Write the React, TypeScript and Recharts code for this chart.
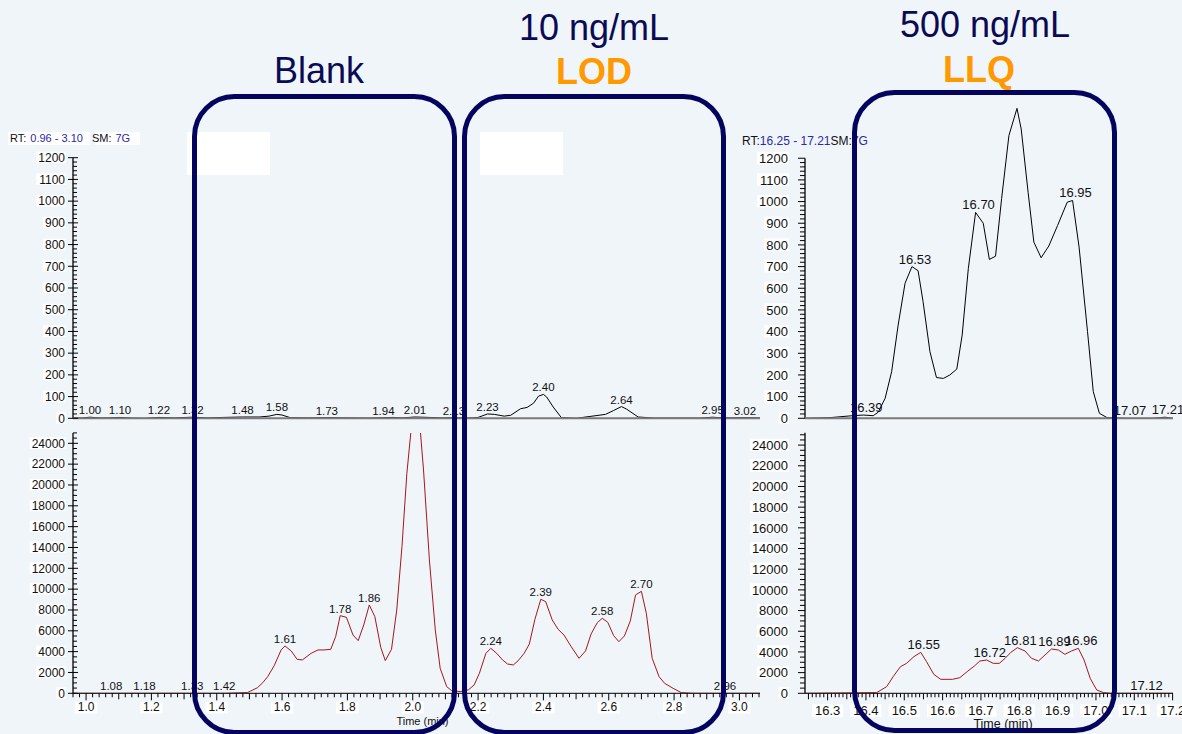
import React from 'react';
import { LineChart, Line, XAxis, YAxis, ReferenceLine, LabelList } from 'recharts';

const FONT = '"Liberation Sans", Arial, sans-serif';
const NAVY = '#04045f';
const ORANGE = '#ff9900';
const BG = '#f0f5fa';

// top left: blank / LOD, 0-1200 scale
const blankLodTop: [number, number][] = [
  [0.96, 2], [0.99, 2], [1.012, 5], [1.04, 2], [1.07, 2], [1.104, 4], [1.14, 1], [1.18, 0],
  [1.223, 4], [1.27, 2], [1.326, 5], [1.37, 2], [1.42, 4], [1.479, 6], [1.53, 6], [1.56, 10],
  [1.584, 18], [1.6, 15], [1.625, 3], [1.68, 2], [1.737, 3], [1.8, 2], [1.86, 1], [1.91, 3],
  [1.94, 4], [1.97, 2], [2.007, 6], [2.05, 4], [2.09, 2], [2.126, 3], [2.17, 1], [2.2, 4],
  [2.229, 20], [2.25, 18], [2.28, 10], [2.3, 14], [2.33, 44], [2.35, 50], [2.37, 70], [2.385, 102],
  [2.4, 110], [2.41, 98], [2.43, 52], [2.455, 3], [2.5, 0], [2.54, 8], [2.59, 18], [2.615, 36],
  [2.639, 54], [2.655, 42], [2.69, 6], [2.74, 1], [2.8, 1], [2.88, 1], [2.918, 5], [2.95, 2],
  [3.017, 3], [3.063, 2],
];
const blankLodTopPeaks: [number, string][] = [
  [1.012, '1.00'], [1.104, '1.10'], [1.223, '1.22'], [1.326, '1.32'], [1.479, '1.48'],
  [1.584, '1.58'], [1.737, '1.73'], [1.91, '1.94'], [2.007, '2.01'], [2.126, '2.13'],
  [2.229, '2.23'], [2.4, '2.40'], [2.639, '2.64'], [2.918, '2.95'], [3.017, '3.02'],
];

// bottom left: blank / LOD, 0-25000 scale
const blankLodBottom: [number, number][] = [
  [0.96, 0], [1.077, 0], [1.179, 0], [1.325, 0], [1.423, 0], [1.494, 64], [1.525, 544],
  [1.541, 1024], [1.556, 1600], [1.576, 2656], [1.597, 4160], [1.609, 4544], [1.628, 4064],
  [1.646, 3264], [1.662, 3200], [1.689, 3840], [1.71, 4160], [1.728, 4160], [1.749, 4224],
  [1.764, 5440], [1.778, 7456], [1.797, 7296], [1.817, 5600], [1.833, 5056], [1.85, 6560],
  [1.867, 8480], [1.884, 7360], [1.902, 4416], [1.916, 3136], [1.935, 4224], [1.951, 8000],
  [1.967, 14080], [1.982, 21120], [1.995, 25300], [2.009, 31000], [2.023, 25300], [2.033, 21440],
  [2.051, 12800], [2.069, 6080], [2.084, 2400], [2.104, 640], [2.119, 256], [2.145, 160],
  [2.17, 320], [2.188, 800], [2.204, 1920], [2.224, 3840], [2.239, 4320], [2.257, 3840],
  [2.275, 3200], [2.29, 2816], [2.308, 2720], [2.323, 3136], [2.341, 3840], [2.357, 4736],
  [2.374, 7104], [2.392, 9024], [2.407, 8800], [2.427, 7040], [2.445, 6144], [2.463, 5600],
  [2.485, 4480], [2.509, 3360], [2.529, 4064], [2.546, 5696], [2.565, 6784], [2.58, 7200],
  [2.597, 6816], [2.615, 5536], [2.631, 4960], [2.648, 5504], [2.666, 6944], [2.682, 9440],
  [2.7, 9792], [2.715, 7680], [2.733, 3360], [2.754, 1600], [2.771, 960], [2.797, 480],
  [2.822, 64], [2.858, 0], [2.956, 0], [3.063, 0],
];
const blankLodBottomPeaks: [number, string][] = [
  [1.077, '1.08'], [1.179, '1.18'], [1.325, '1.33'], [1.423, '1.42'], [1.609, '1.61'],
  [1.778, '1.78'], [1.867, '1.86'], [2.239, '2.24'], [2.392, '2.39'], [2.58, '2.58'],
  [2.7, '2.70'], [2.956, '2.96'],
];

// top right: LLQ, 0-1200 scale (main peak runs above the axis)
const llqTop: [number, number][] = [
  [16.241, 0], [16.306, 3], [16.358, 11], [16.393, 15], [16.419, 12], [16.432, 28], [16.45, 92],
  [16.467, 215], [16.484, 430], [16.502, 623], [16.52, 700], [16.536, 681], [16.549, 538],
  [16.567, 307], [16.584, 188], [16.602, 184], [16.619, 200], [16.637, 227], [16.651, 384],
  [16.667, 690], [16.686, 950], [16.706, 900], [16.722, 733], [16.738, 748], [16.754, 1015],
  [16.773, 1305], [16.794, 1430], [16.805, 1335], [16.823, 1043], [16.838, 813], [16.857, 741],
  [16.877, 795], [16.9, 890], [16.925, 997], [16.939, 1005], [16.956, 790], [16.978, 400],
  [16.993, 123], [17.009, 23], [17.029, 3], [17.081, 0], [17.15, 0], [17.18, 5], [17.201, 0],
];
const llqTopPeaks: [number, string][] = [
  [16.393, '16.39'], [16.52, '16.53'], [16.686, '16.70'], [16.939, '16.95'],
  [17.081, '17.07'], [17.18, '17.21'],
];

// bottom right: LLQ, 0-25000 scale
const llqBottom: [number, number][] = [
  [16.241, 0], [16.428, 64], [16.454, 644], [16.471, 1610], [16.49, 2576], [16.506, 2898],
  [16.525, 3542], [16.543, 3960], [16.558, 3059], [16.577, 1835], [16.595, 1352], [16.626, 1352],
  [16.645, 1513], [16.664, 2093], [16.684, 2673], [16.697, 3123], [16.715, 3220], [16.732, 2898],
  [16.748, 2898], [16.763, 3381], [16.778, 3960], [16.795, 4411], [16.815, 4089], [16.832, 3381],
  [16.85, 3123], [16.867, 3703], [16.884, 4283], [16.902, 4186], [16.919, 3767], [16.936, 4089],
  [16.954, 4347], [16.969, 3220], [16.985, 1449], [17.002, 322], [17.02, 64], [17.037, 0],
  [17.124, 0], [17.201, 0],
];
const llqBottomPeaks: [number, string][] = [
  [16.543, '16.55'], [16.715, '16.72'], [16.795, '16.81'], [16.884, '16.89'],
  [16.954, '16.96'], [17.124, '17.12'],
];

const leftTimeLabels = [1.0, 1.2, 1.4, 1.6, 1.8, 2.0, 2.2, 2.4, 2.6, 2.8, 3.0];
const rightTimeLabels = [16.3, 16.4, 16.5, 16.6, 16.7, 16.8, 16.9, 17.0, 17.1, 17.2];
const topSignalStep = 100;
const bottomSignalStep = 2000;

const range = (start: number, end: number, step: number) => {
  const out: number[] = [];
  const n = Math.round((end - start) / step);
  for (let i = 0; i <= n; i++) out.push(Math.round((start + i * step) * 1000) / 1000);
  return out;
};

const toRows = (trace: [number, number][], peaks: [number, string][]) =>
  trace.map(([t, v]) => {
    const p = peaks.find((q) => Math.abs(q[0] - t) < 1e-6);
    return { t, v, lab: p ? p[1] : undefined };
  });

const isMultiple = (v: number, step: number) => Math.abs(v / step - Math.round(v / step)) < 1e-6;

const XTick = (props: any) => {
  const { x, y, payload, cfg } = props;
  const v = payload.value;
  const isLabel = cfg.labels.some((l: number) => Math.abs(l - v) < 1e-6);
  const isMajor = isLabel || isMultiple(v, cfg.majorStep);
  const len = isLabel ? 7 : isMajor ? 6 : 4;
  const text = v.toFixed(1);
  const w = text.length * cfg.fontSize * 0.54 + 3;
  return (
    <g>
      <line x1={x} x2={x} y1={y} y2={y + len} stroke="#000" strokeWidth={1} />
      {isLabel && (
        <>
          <rect x={x - w / 2} y={y + cfg.labelDy - cfg.fontSize * 0.8} width={w} height={cfg.fontSize * 0.98} fill="#fff" />
          <text x={x} y={y + cfg.labelDy} textAnchor="middle" fontSize={cfg.fontSize} fontFamily={FONT} fill="#111">
            {text}
          </text>
        </>
      )}
    </g>
  );
};

const YTick = (props: any) => {
  const { x, y, payload, cfg } = props;
  const v = payload.value;
  const isLabel = isMultiple(v, cfg.labelStep);
  const text = String(v);
  const w = text.length * cfg.fontSize * 0.556 + 2;
  const x1 = isLabel ? x - cfg.majorOut : x - cfg.minorOut;
  const x2 = isLabel ? x + cfg.majorIn : x + cfg.minorIn;
  return (
    <g>
      <line x1={x1} x2={x2} y1={y} y2={y} stroke="#000" strokeWidth={1} />
      {isLabel && (
        <>
          <rect x={x - cfg.gap - w} y={y - cfg.fontSize * 0.5} width={w + 1} height={cfg.fontSize * 0.95} fill="#fff" />
          <text x={x - cfg.gap} y={y + cfg.fontSize * 0.36} textAnchor="end" fontSize={cfg.fontSize} fontFamily={FONT} fill="#111">
            {text}
          </text>
        </>
      )}
    </g>
  );
};

type PanelProps = {
  left: number;
  top: number;
  width: number;
  height: number;
  margin: { top: number; right: number; bottom: number; left: number };
  yAxisWidth: number;
  xAxisHeight: number;
  xDomain: [number, number];
  yDomain: [number, number];
  yAxisTop: number;
  clipY: boolean;
  rows: { t: number; v: number; lab?: string }[];
  color: string;
  baseline: string;
  xTicks?: number[];
  xCfg?: any;
  yTicks: number[];
  yCfg: any;
  peakFont: number;
  peakDx: number;
  timeLabel?: { fontSize: number; dx: number };
};

const Panel = (p: PanelProps) => (
  <div style={{ position: 'absolute', left: p.left, top: p.top }}>
    <LineChart width={p.width} height={p.height} data={p.rows} margin={p.margin}>
      <XAxis
        dataKey="t"
        type="number"
        domain={p.xDomain}
        ticks={p.xTicks}
        interval={0}
        height={p.xAxisHeight}
        tickSize={0}
        tickMargin={0}
        tickLine={false}
        tick={p.xTicks ? (tp: any) => <XTick {...tp} cfg={p.xCfg} /> : false}
        axisLine={{ stroke: p.baseline, strokeWidth: p.xTicks ? 1 : 2 }}
        label={
          p.timeLabel
            ? {
                value: 'Time (min)',
                position: 'insideBottom',
                offset: 0,
                dx: p.timeLabel.dx,
                fontSize: p.timeLabel.fontSize,
                fill: '#111',
                fontFamily: FONT,
              }
            : undefined
        }
      />
      <YAxis
        type="number"
        domain={p.yDomain}
        allowDataOverflow={p.clipY}
        ticks={p.yTicks}
        interval={0}
        width={p.yAxisWidth}
        tickSize={0}
        tickMargin={0}
        tickLine={false}
        axisLine={false}
        tick={(tp: any) => <YTick {...tp} cfg={p.yCfg} />}
      />
      <ReferenceLine
        segment={[
          { x: p.xDomain[0], y: 0 },
          { x: p.xDomain[0], y: p.yAxisTop },
        ]}
        stroke="#000"
        strokeWidth={1.3}
        ifOverflow="visible"
      />
      <Line dataKey="v" type="linear" stroke={p.color} strokeWidth={1} dot={false} activeDot={false} isAnimationActive={false}>
        <LabelList
          dataKey="lab"
          content={(lp: any) => {
            if (!lp.value) return null;
            const x = lp.x ?? lp.viewBox?.x;
            const y = lp.y ?? lp.viewBox?.y;
            return (
              <text x={x + p.peakDx} y={y - 3} textAnchor="middle" fontSize={p.peakFont} fontFamily={FONT} fill="#111">
                {lp.value}
              </text>
            );
          }}
        />
      </Line>
    </LineChart>
  </div>
);

const leftYCfgTop = { labelStep: topSignalStep, fontSize: 12, gap: 8, majorOut: 5, majorIn: 5, minorOut: 0, minorIn: 4 };
const leftYCfgBottom = { ...leftYCfgTop, labelStep: bottomSignalStep };
const rightYCfgTop = { labelStep: topSignalStep, fontSize: 13, gap: 17, majorOut: 7, majorIn: 0, minorOut: 5, minorIn: 0 };
const rightYCfgBottom = { ...rightYCfgTop, labelStep: bottomSignalStep };

export default function App() {
  const leftX: [number, number] = [0.96, 3.063];
  const rightX: [number, number] = [16.241, 17.201];
  return (
    <div
      style={{
        position: 'absolute',
        left: 0,
        top: 0,
        width: 1182,
        height: 734,
        overflow: 'hidden',
        background: BG,
        fontFamily: FONT,
      }}
    >
      <Panel
        left={0}
        top={120}
        width={780}
        height={308.3}
        margin={{ top: 37.7, right: 20, bottom: 0, left: 0 }}
        yAxisWidth={73}
        xAxisHeight={10}
        xDomain={leftX}
        yDomain={[0, 1200]}
        yAxisTop={1200}
        clipY={false}
        rows={toRows(blankLodTop, blankLodTopPeaks)}
        color="#000"
        baseline="#7a7a7a"
        yTicks={range(0, 1200, 20)}
        yCfg={leftYCfgTop}
        peakFont={11.5}
        peakDx={0}
      />
      <Panel
        left={0}
        top={425}
        width={780}
        height={310.3}
        margin={{ top: 7.9, right: 20, bottom: 10, left: 0 }}
        yAxisWidth={73}
        xAxisHeight={32}
        xDomain={leftX}
        yDomain={[0, 25000]}
        yAxisTop={25000}
        clipY={true}
        rows={toRows(blankLodBottom, blankLodBottomPeaks)}
        color="#a3161c"
        baseline="#000"
        xTicks={range(0.96, 3.06, 0.02)}
        xCfg={{ labels: leftTimeLabels, majorStep: 0.1, fontSize: 12, labelDy: 18 }}
        yTicks={range(0, 25000, 500)}
        yCfg={leftYCfgBottom}
        peakFont={11.5}
        peakDx={0}
        timeLabel={{ fontSize: 11, dx: 6 }}
      />
      <Panel
        left={730}
        top={90}
        width={452}
        height={338.3}
        margin={{ top: 16, right: 9, bottom: 0, left: 0 }}
        yAxisWidth={75}
        xAxisHeight={10}
        xDomain={rightX}
        yDomain={[0, 1441]}
        yAxisTop={1200}
        clipY={false}
        rows={toRows(llqTop, llqTopPeaks)}
        color="#000"
        baseline="#7a7a7a"
        yTicks={range(0, 1200, 20)}
        yCfg={rightYCfgTop}
        peakFont={13}
        peakDx={3}
      />
      <Panel
        left={730}
        top={425}
        width={452}
        height={313.3}
        margin={{ top: 7.7, right: 9, bottom: 10, left: 0 }}
        yAxisWidth={75}
        xAxisHeight={35}
        xDomain={rightX}
        yDomain={[0, 25200]}
        yAxisTop={25200}
        clipY={true}
        rows={toRows(llqBottom, llqBottomPeaks)}
        color="#a3161c"
        baseline="#000"
        xTicks={range(16.25, 17.2, 0.01)}
        xCfg={{ labels: rightTimeLabels, majorStep: 0.05, fontSize: 13, labelDy: 21.5 }}
        yTicks={range(0, 25000, 500)}
        yCfg={rightYCfgBottom}
        peakFont={13}
        peakDx={3}
        timeLabel={{ fontSize: 12.5, dx: 14 }}
      />

      <svg width={1182} height={734} style={{ position: 'absolute', left: 0, top: 0, pointerEvents: 'none' }}>
        <rect x={8} y={132} width={82} height={13} fill="#fff" />
        <rect x={95} y={132} width={45} height={13} fill="#fff" />
        <text x={10} y={141.5} fontSize={11} fontFamily={FONT} fill="#111">
          RT:
          <tspan dx={4} fill="#2a2aa8">0.96 - 3.10</tspan>
          <tspan dx={9} fill="#111">SM:</tspan>
          <tspan dx={4} fill="#2a2aa8">7G</tspan>
        </text>
        <text x={742} y={144.5} fontSize={12} fontFamily={FONT} fill="#111">
          RT:
          <tspan fill="#2a2aa8">16.25 - 17.21</tspan>
          <tspan fill="#111">SM:</tspan>
          <tspan fill="#2a2aa8">7G</tspan>
        </text>

        <rect x={187} y={132} width={83} height={43} fill="#fff" />
        <rect x={480} y={132} width={83} height={43} fill="#fff" />

        <rect x={194.5} y={96.5} width={260} height={636} rx={40} ry={40} fill="none" stroke={NAVY} strokeWidth={5} />
        <rect x={464.5} y={96.5} width={259} height={636} rx={40} ry={40} fill="none" stroke={NAVY} strokeWidth={5} />
        <rect x={854.5} y={92.5} width={260} height={638} rx={40} ry={40} fill="none" stroke={NAVY} strokeWidth={5} />

        <text x={319} y={83} textAnchor="middle" fontSize={36} fontFamily={FONT} fill="#0a0a55">
          Blank
        </text>
        <text x={594} y={40} textAnchor="middle" fontSize={36} fontFamily={FONT} fill="#0a0a55">
          10 ng/mL
        </text>
        <text x={594} y={84} textAnchor="middle" fontSize={36} fontWeight="bold" fontFamily={FONT} fill={ORANGE}>
          LOD
        </text>
        <text x={985} y={37} textAnchor="middle" fontSize={36} fontFamily={FONT} fill="#0a0a55">
          500 ng/mL
        </text>
        <text x={979} y={82} textAnchor="middle" fontSize={36} fontWeight="bold" fontFamily={FONT} fill={ORANGE}>
          LLQ
        </text>
      </svg>
    </div>
  );
}
